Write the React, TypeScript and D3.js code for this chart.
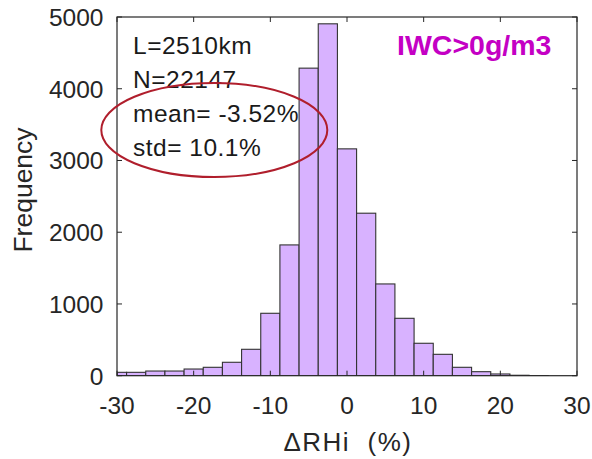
import React from "react";
import * as d3 from "d3";

const binEdges = [-31.25, -28.75, -26.25, -23.75, -21.25, -18.75, -16.25, -13.75, -11.25, -8.75, -6.25, -3.75, -1.25, 1.25, 3.75, 6.25, 8.75, 11.25, 13.75, 16.25, 18.75, 21.25, 23.75, 26.25];
const counts = [47, 47, 65, 65, 93, 117, 187, 368, 870, 1823, 4287, 4905, 3162, 2265, 1279, 800, 452, 298, 117, 56, 24, 6, 2];
const xTicks = [-30, -20, -10, 0, 10, 20, 30];
const yTicks = [0, 1000, 2000, 3000, 4000, 5000];
const statLines = ["L=2510km", "N=22147", "mean= -3.52%", "std= 10.1%"];
const condLabel = "IWC>0g/m3";

const W = 592, H = 459;
const left = 117, right = 577, top = 17, bottom = 375.7;
const font = "Liberation Sans, Arial, Helvetica, sans-serif";
const axisColor = "#262626";

export default function App() {
  const x = d3.scaleLinear().domain([-30, 30]).range([left, right]);
  const y = d3.scaleLinear().domain([0, 5000]).range([bottom, top]);
  const bars = counts.map((c, i) => {
    const x0 = Math.max(binEdges[i], -30);
    const x1 = Math.min(binEdges[i + 1], 30);
    return { x0, x1, c };
  }).filter(b => b.x1 > b.x0);
  const tl = 5;
  return (
    <svg width={W} height={H} style={{ position: "absolute", left: 0, top: 0, background: "#fff" }} fontFamily={font}>
      <defs>
        <clipPath id="plotClip">
          <rect x={left} y={top} width={right - left} height={bottom - top} />
        </clipPath>
      </defs>
      <rect x={0} y={0} width={W} height={H} fill="#fff" />
      <g clipPath="url(#plotClip)">
        {bars.map((b, i) => (
          <rect key={i} x={x(b.x0)} y={y(b.c)} width={x(b.x1) - x(b.x0)} height={y(0) - y(b.c)}
            fill="#d8b2ff" stroke="#333" strokeWidth={1.1} />
        ))}
      </g>
      <rect x={left} y={top} width={right - left} height={bottom - top} fill="none" stroke={axisColor} strokeWidth={1.2} />
      {xTicks.map(t => (
        <g key={"x" + t}>
          <line x1={x(t)} x2={x(t)} y1={bottom} y2={bottom - tl} stroke={axisColor} strokeWidth={1} />
          <line x1={x(t)} x2={x(t)} y1={top} y2={top + tl} stroke={axisColor} strokeWidth={1} />
          <text x={x(t)} y={414} textAnchor="middle" fontSize={24.5} fill={axisColor}>{t}</text>
        </g>
      ))}
      {yTicks.map(t => (
        <g key={"y" + t}>
          <line x1={left} x2={left + tl} y1={y(t)} y2={y(t)} stroke={axisColor} strokeWidth={1} />
          <line x1={right} x2={right - tl} y1={y(t)} y2={y(t)} stroke={axisColor} strokeWidth={1} />
          <text x={103.5} y={y(t) + 9} textAnchor="end" fontSize={24.5} fill={axisColor}>{t}</text>
        </g>
      ))}
      <text x={348} y={451} textAnchor="middle" fontSize={26} letterSpacing={1.5} fill={axisColor} style={{ whiteSpace: "pre" }}>{"\u0394RHi  (%)"}</text>
      <text transform="translate(32,190) rotate(-90)" textAnchor="middle" fontSize={26.5} fill={axisColor}>Frequency</text>
      {statLines.map((s, i) => (
        <text key={s} x={133} y={54.3 + i * 33.8} fontSize={24.5} letterSpacing={0.5} fill="#1a1a1a" style={{ whiteSpace: "pre" }}>{s}</text>
      ))}
      <text x={397} y={55} fontSize={28.5} fontWeight="bold" fill="#c400c4">{condLabel}</text>
      <ellipse cx={214.3} cy={130} rx={113} ry={47} fill="none" stroke="#b01e2c" strokeWidth={2} />
    </svg>
  );
}
